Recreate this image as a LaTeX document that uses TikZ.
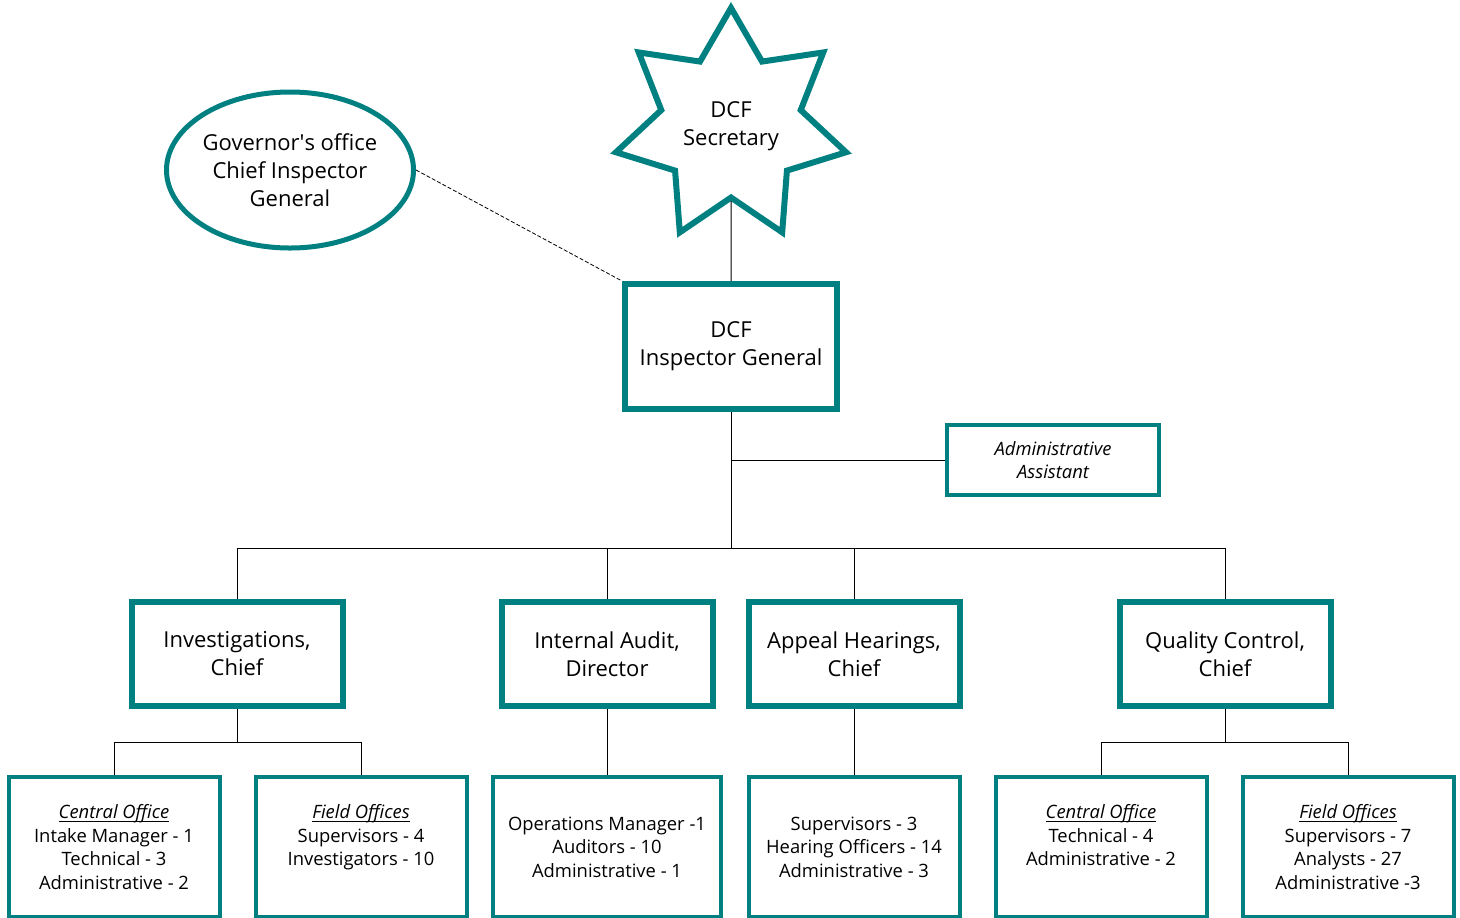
\documentclass[tikz,border=0pt]{standalone}
\usepackage{fontspec}
\setmainfont{Open Sans}
\usetikzlibrary{shapes.geometric}
\definecolor{ogteal}{RGB}{0,128,128}
\newcommand{\bigtext}{\fontsize{11}{14}\selectfont}
\newcommand{\smalltext}{\fontsize{9.2}{11.75}\selectfont}
\newcommand{\officehead}[1]{\textit{\underline{\smash{#1}}\vphantom{#1}}}
\begin{document}
\begin{tikzpicture}[x=0.5pt, y=-0.5pt,
	chefbox/.style={draw=ogteal, line width=3pt, fill=white, align=center,
		minimum width=105.5pt, minimum height=52pt, inner sep=0pt, font=\bigtext},
	staffbox/.style={draw=ogteal, line width=2pt, fill=white, align=center,
		minimum width=105.5pt, minimum height=70pt, inner sep=0pt, font=\smalltext},
	link/.style={draw=black, line width=0.5pt}]
	\useasboundingbox (0, 0) rectangle (1460, 917);
	% Leitung oben
	\node[star, star points=7, star point ratio=1.65, minimum size=118pt,
		inner sep=0pt, draw=ogteal, line width=3pt, fill=white, align=center,
		font=\bigtext] (sec) at (731, 126) {DCF\\Secretary};
	\node[ellipse, minimum width=118pt, minimum height=78pt, inner sep=0pt,
		draw=ogteal, line width=2.5pt, fill=white, align=center,
		font=\bigtext] (gov) at (290, 170) {Governor\textquotesingle s office\\Chief Inspector\\General};
	\node[chefbox, minimum width=106pt, minimum height=62.5pt] (ig) at (731, 346.5)
		{DCF\\Inspector General};
	\node[staffbox, minimum width=106pt, minimum height=35pt,
		font=\smalltext\itshape] (aa) at (1053, 460) {Administrative\\Assistant};
	\draw[link] (sec.south) -- (ig.north);
	\draw[line width=0.4pt, dash pattern=on 2pt off 1pt] (gov.east) -- (ig.north west);

	% Abteilungen
	\node[chefbox] (inv) at (237, 654) {Investigations,\\Chief};
	\node[chefbox] (ia) at (607, 654) {Internal Audit,\\Director};
	\node[chefbox] (ah) at (854, 654) {Appeal Hearings,\\Chief};
	\node[chefbox] (qc) at (1225, 654) {Quality Control,\\Chief};
	\coordinate (bus) at (731, 548);
	\draw[link] (ig.south) -- (bus);
	\draw[link] (aa.west) -- (aa.west -| ig.south);
	\draw[link] (inv.north) |- (bus) -| (qc.north);
	\draw[link] (ia.north) -- (ia.north |- bus);
	\draw[link] (ah.north) -- (ah.north |- bus);

	% Personal
	\node[staffbox] (invco) at (114, 847)
		{\officehead{Central Office}\\Intake Manager - 1\\Technical - 3\\Administrative - 2};
	\node[staffbox] (invfo) at (361, 847)
		{\officehead{Field Offices}\\Supervisors - 4\\Investigators - 10\\\phantom{Administrative - 2}};
	\node[staffbox, minimum width=114pt] (iast) at (607, 847)
		{Operations Manager -1\\Auditors - 10\\Administrative - 1};
	\node[staffbox] (ahst) at (854, 847)
		{Supervisors - 3\\Hearing Officers - 14\\Administrative - 3};
	\node[staffbox] (qcco) at (1101, 847)
		{\officehead{Central Office}\\Technical - 4\\Administrative - 2\\\phantom{Administrative - 2}};
	\node[staffbox] (qcfo) at (1348, 847)
		{\officehead{Field Offices}\\Supervisors - 7\\Analysts - 27\\Administrative -3};
	\coordinate (invsplit) at (237, 742);
	\coordinate (qcsplit) at (1225, 742);
	\draw[link] (inv.south) -- (invsplit);
	\draw[link] (invco.north) |- (invsplit) -| (invfo.north);
	\draw[link] (ia.south) -- (iast.north);
	\draw[link] (ah.south) -- (ahst.north);
	\draw[link] (qc.south) -- (qcsplit);
	\draw[link] (qcco.north) |- (qcsplit) -| (qcfo.north);
\end{tikzpicture}
\end{document}
